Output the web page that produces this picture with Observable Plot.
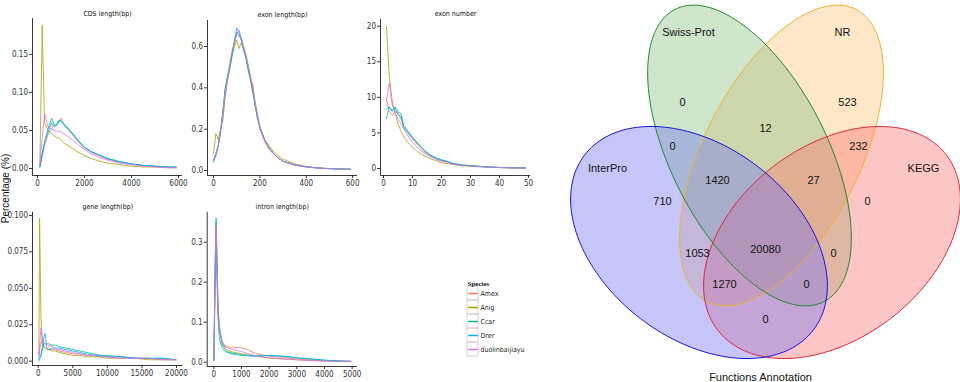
<!DOCTYPE html>
<html>
<head>
<meta charset="utf-8">
<script src="https://cdn.jsdelivr.net/npm/d3@7"></script>
<script src="https://cdn.jsdelivr.net/npm/@observablehq/plot@0.6"></script>
<style>
  html, body { margin: 0; padding: 0; background: #fff; }
  #chart { position: relative; width: 960px; height: 382px; overflow: hidden; background: #fff; }
</style>
</head>
<body>
<div id="chart"></div>
<script>
// ---------------- DATA ----------------
const species = ["Amex", "Anig", "Ccar", "Drer", "duolinbaijiayu"];
const speciesColors = ["#F8766D", "#A3A500", "#00BF7D", "#00B0F6", "#E76BF3"];

// CDS length(bp)
const cdsX = [100,200,300,450,600,700,800,900,1000,1100,1300,1500,1700,2000,2300,2600,3000,3500,4000,4500,5000,5500,5900];
const cdsAmex  = [0.002,0.015,0.030,0.045,0.052,0.057,0.058,0.062,0.066,0.060,0.052,0.044,0.036,0.027,0.021,0.017,0.012,0.008,0.006,0.004,0.003,0.002,0.001];
const cdsAnig  = [0.003,0.188,0.060,0.050,0.046,0.043,0.041,0.040,0.037,0.034,0.030,0.026,0.022,0.017,0.013,0.010,0.007,0.005,0.003,0.002,0.002,0.001,0.001];
const cdsCcar  = [0.002,0.020,0.035,0.052,0.066,0.058,0.057,0.063,0.062,0.058,0.051,0.045,0.037,0.028,0.022,0.018,0.013,0.009,0.006,0.004,0.003,0.002,0.002];
const cdsDrer  = [0.002,0.018,0.033,0.048,0.060,0.055,0.056,0.061,0.063,0.059,0.053,0.046,0.038,0.028,0.022,0.018,0.013,0.009,0.006,0.004,0.003,0.002,0.002];
const cdsDuol  = [0.005,0.040,0.072,0.055,0.052,0.050,0.049,0.049,0.048,0.046,0.042,0.037,0.032,0.025,0.019,0.015,0.011,0.007,0.005,0.003,0.002,0.001,0.001];

// exon length(bp)
const exlX = [0,10,20,30,40,50,60,70,80,90,100,110,120,130,140,150,160,170,180,190,200,220,240,260,280,300,350,400,450,500,550,590];
const exlAmex = [0.05,0.08,0.12,0.19,0.28,0.38,0.44,0.50,0.57,0.61,0.66,0.65,0.64,0.60,0.55,0.49,0.44,0.42,0.31,0.25,0.20,0.14,0.10,0.08,0.06,0.044,0.026,0.017,0.012,0.009,0.007,0.006];
const exlAnig = [0.08,0.18,0.15,0.20,0.24,0.35,0.43,0.49,0.55,0.60,0.63,0.59,0.62,0.58,0.54,0.48,0.43,0.37,0.31,0.25,0.21,0.15,0.12,0.09,0.07,0.055,0.032,0.020,0.013,0.010,0.008,0.007];
const exlCcar = [0.05,0.08,0.12,0.19,0.28,0.40,0.46,0.51,0.57,0.63,0.67,0.66,0.63,0.59,0.55,0.49,0.44,0.38,0.32,0.26,0.21,0.15,0.11,0.08,0.06,0.045,0.027,0.018,0.012,0.009,0.007,0.006];
const exlDrer = [0.04,0.07,0.11,0.18,0.27,0.38,0.45,0.50,0.56,0.62,0.69,0.67,0.63,0.59,0.55,0.50,0.45,0.39,0.32,0.26,0.21,0.15,0.11,0.08,0.06,0.045,0.027,0.018,0.012,0.009,0.007,0.006];
const exlDuol = [0.05,0.08,0.12,0.19,0.28,0.37,0.44,0.52,0.58,0.62,0.66,0.68,0.64,0.60,0.56,0.51,0.45,0.40,0.33,0.27,0.21,0.15,0.11,0.08,0.06,0.045,0.026,0.017,0.012,0.009,0.007,0.006];

// exon number
const exnX = [1,2,3,4,5,6,7,8,9,10,12,14,16,18,20,22,24,27,30,35,40,45,49];
const exnAmex = [9.8,8.0,7.5,8.0,7.8,7.0,5.8,5.2,4.7,4.2,3.2,2.4,1.8,1.4,1.1,0.9,0.7,0.5,0.4,0.25,0.15,0.1,0.08];
const exnAnig = [20.0,13.0,9.5,7.8,6.3,5.3,4.5,3.9,3.4,3.0,2.3,1.8,1.4,1.1,0.8,0.7,0.55,0.4,0.3,0.2,0.12,0.08,0.05];
const exnCcar = [7.0,8.6,8.2,8.7,8.0,7.7,6.1,5.5,5.0,4.4,3.5,2.6,1.9,1.5,1.2,1.0,0.7,0.5,0.4,0.25,0.15,0.1,0.08];
const exnDrer = [8.3,8.7,8.0,8.5,7.6,7.3,5.8,5.3,4.8,4.3,3.4,2.6,1.9,1.5,1.2,1.0,0.7,0.5,0.4,0.25,0.15,0.1,0.08];
const exnDuol = [9.5,12.0,9.0,7.8,7.0,6.3,5.5,4.9,4.3,3.7,2.8,2.2,1.7,1.3,1.0,0.9,0.6,0.45,0.35,0.22,0.14,0.09,0.06];

// gene length(bp)
const genX = [100,200,400,600,800,1000,1200,1500,2000,2500,3000,4000,5000,6000,7000,8000,9000,10000,12000,14000,16000,18000,19900];
const genAmex = [0.003,0.008,0.012,0.015,0.011,0.009,0.009,0.008,0.008,0.008,0.007,0.006,0.005,0.005,0.004,0.004,0.003,0.003,0.003,0.002,0.002,0.001,0.001];
const genAnig = [0.005,0.098,0.030,0.012,0.010,0.009,0.008,0.008,0.007,0.007,0.006,0.005,0.004,0.004,0.003,0.003,0.003,0.002,0.002,0.002,0.001,0.001,0.001];
const genCcar = [0.001,0.002,0.004,0.008,0.012,0.012,0.012,0.012,0.011,0.011,0.010,0.009,0.008,0.007,0.006,0.005,0.004,0.004,0.003,0.002,0.002,0.002,0.001];
const genDrer = [0.000,0.001,0.004,0.010,0.016,0.019,0.010,0.008,0.009,0.009,0.009,0.008,0.007,0.006,0.005,0.004,0.004,0.003,0.003,0.002,0.002,0.002,0.001];
const genDuol = [0.002,0.010,0.023,0.016,0.012,0.012,0.011,0.011,0.010,0.009,0.008,0.007,0.006,0.005,0.004,0.004,0.003,0.003,0.002,0.002,0.002,0.001,0.001];

// intron length(bp)
const intX = [0,50,80,100,150,200,300,400,500,700,1000,1200,1500,2000,2500,3000,3500,4000,4500,4950];
const intAmex = [0.005,0.20,0.30,0.25,0.12,0.08,0.05,0.042,0.038,0.037,0.036,0.032,0.022,0.015,0.012,0.008,0.006,0.004,0.003,0.002];
const intAnig = [0.005,0.25,0.35,0.30,0.14,0.09,0.05,0.036,0.030,0.025,0.021,0.018,0.015,0.010,0.008,0.006,0.004,0.003,0.002,0.002];
const intCcar = [0.005,0.26,0.36,0.30,0.14,0.08,0.045,0.032,0.026,0.022,0.019,0.017,0.016,0.016,0.015,0.011,0.008,0.005,0.003,0.002];
const intDrer = [0.005,0.22,0.32,0.27,0.11,0.06,0.035,0.027,0.024,0.020,0.017,0.016,0.015,0.017,0.015,0.011,0.008,0.005,0.003,0.002];
const intDuol = [0.005,0.24,0.34,0.29,0.13,0.085,0.05,0.040,0.036,0.031,0.027,0.022,0.016,0.011,0.008,0.006,0.004,0.003,0.002,0.002];

// Venn
const vennSets = ["Swiss-Prot", "NR", "InterPro", "KEGG"];
const vennRegions = ["Swiss-Prot only","NR only","Swiss-Prot∩NR","Swiss-Prot∩InterPro","NR∩KEGG","Swiss-Prot∩NR∩InterPro","Swiss-Prot∩NR∩KEGG","InterPro only","KEGG only","NR∩InterPro","all four","Swiss-Prot∩KEGG","NR∩InterPro∩KEGG","Swiss-Prot∩InterPro∩KEGG","InterPro∩KEGG"];
const vennCounts  = [0, 523, 12, 0, 232, 1420, 27, 710, 0, 1053, 20080, 0, 1270, 0, 0];
const vennTitle = "Functions Annotation";

// ---------------- LAYOUT / STYLE ----------------
const NARROW = "'Liberation Sans Narrow','Arial Narrow','DejaVu Sans Condensed',sans-serif";
const SANS = "'Liberation Sans',Arial,sans-serif";
const root = document.getElementById("chart");
const fullStyle = (extra = {}) => Object.assign({
  background: "transparent", position: "absolute", left: "0px", top: "0px",
  overflow: "visible", fontFamily: NARROW, fontSize: "8px", color: "#333"
}, extra);

function panel({xs, series, title, xDomain, yDomain, px, py, xTicks, yTicks, yFormat, titleDy}) {
  const rows = [];
  species.forEach((s, i) => series[i].forEach((v, j) => rows.push({species: s, x: xs[j], y: v})));
  return Plot.plot({
    width: 560, height: 382,
    marginLeft: px[0], marginRight: 560 - px[1], marginTop: py[0], marginBottom: 382 - py[1],
    x: {domain: xDomain, ticks: xTicks, tickSize: 3, tickPadding: 1.5, label: null, tickFormat: d3.format("d")},
    y: {domain: yDomain, ticks: yTicks, tickSize: 3, tickPadding: 1.5, label: null, tickFormat: d3.format(yFormat)},
    color: {domain: species, range: speciesColors},
    style: fullStyle(),
    marks: [
      Plot.line(rows, {x: "x", y: "y", z: "species", stroke: "species", strokeWidth: 0.8}),
      Plot.ruleX([xDomain[0]], {stroke: "#222", strokeWidth: 0.9}),
      Plot.ruleY([yDomain[0]], {stroke: "#222", strokeWidth: 0.9}),
      Plot.text([title], {text: d => d, frameAnchor: "top", lineAnchor: "bottom", dy: titleDy, fontSize: 7, fill: "#111"})
    ]
  });
}

const panels = [
  {xs: cdsX, series: [cdsAmex, cdsAnig, cdsCcar, cdsDrer, cdsDuol], title: "CDS length(bp)",
   xDomain: [-213, 6170], yDomain: [-0.0092, 0.197], px: [32, 182], py: [18, 175],
   xTicks: [0, 2000, 4000, 6000], yTicks: [0, 0.05, 0.10, 0.15], yFormat: ".2f", titleDy: -3},
  {xs: exlX, series: [exlAmex, exlAnig, exlCcar, exlDrer, exlDuol], title: "exon length(bp)",
   xDomain: [-26, 621], yDomain: [-0.024, 0.726], px: [207, 357], py: [20, 175],
   xTicks: [0, 200, 400, 600], yTicks: [0, 0.2, 0.4, 0.6], yFormat: ".1f", titleDy: -4},
  {xs: exnX, series: [exnAmex, exnAnig, exnCcar, exnDrer, exnDuol], title: "exon number",
   xDomain: [-1.03, 50.7], yDomain: [-0.98, 20.94], px: [380, 530], py: [19, 175],
   xTicks: [0, 10, 20, 30, 40, 50], yTicks: [0, 5, 10, 15, 20], yFormat: "d", titleDy: -4},
  {xs: genX, series: [genAmex, genAnig, genCcar, genDrer, genDuol], title: "gene length(bp)",
   xDomain: [-824, 20969], yDomain: [-0.00295, 0.1022], px: [32, 182.7], py: [211.7, 365],
   xTicks: [0, 5000, 10000, 15000, 20000], yTicks: [0, 0.025, 0.05, 0.075, 0.1], yFormat: ".3f", titleDy: -3},
  {xs: intX, series: [intAmex, intAnig, intCcar, intDrer, intDuol], title: "intron length(bp)",
   xDomain: [-240, 5183], yDomain: [-0.0108, 0.375], px: [206.7, 356.7], py: [211.7, 366],
   xTicks: [0, 1000, 2000, 3000, 4000, 5000], yTicks: [0, 0.1, 0.2, 0.3], yFormat: ".1f", titleDy: -3}
];
panels.forEach(p => root.appendChild(panel(p)));

// Y axis label
root.appendChild(Plot.plot({
  width: 12, height: 382, margin: 0,
  x: {axis: null}, y: {axis: null},
  style: fullStyle({left: "-1px", top: "-3px", fontFamily: SANS}),
  marks: [Plot.text(["Percentage (%)"], {text: d => d, frameAnchor: "middle", rotate: -90, fontSize: 10, fill: "#111"})]
}));

// Legend: one row per species (row index on a linear y scale)
const legendRow = species.map((_, i) => i);
const legendKeyRows = [];
species.forEach((s, i) => { legendKeyRows.push({s, row: i, k: 0.1}); legendKeyRows.push({s, row: i, k: 0.9}); });
root.appendChild(Plot.plot({
  width: 90, height: 84, marginTop: 10, marginBottom: 4, marginLeft: 0, marginRight: 79,
  x: {domain: [0, 1], range: [0, 11], axis: null},
  y: {domain: [-0.5, 4.5], range: [10, 80], axis: null},
  color: {domain: species, range: speciesColors},
  style: fullStyle({left: "467px", top: "276px"}),
  marks: [
    Plot.rect(legendRow, {x1: () => 0, x2: () => 1, y1: i => i - 0.5, y2: i => i + 0.5, fill: "none", stroke: "#c8c8c8", strokeWidth: 0.8}),
    Plot.line(legendKeyRows, {x: "k", y: "row", z: "s", stroke: "s", strokeWidth: 1.3}),
    Plot.text(legendRow, {x: () => 1, y: i => i, text: i => species[i], textAnchor: "start", dx: 2, fontSize: 7, fill: "#222"}),
    Plot.text(["Species"], {text: d => d, frameAnchor: "top-left", lineAnchor: "bottom", dy: -1, fontSize: 7,
      fontWeight: "bold", fontFamily: "'Liberation Serif','Times New Roman',serif", fill: "#111"})
  ]
}));

// Venn diagram: ellipse geometry (center, semi-axes, rotation) in the diagram's own units
const vennCx = [-16, 16, -66.5, 66.5];
const vennCy = [155, 155, 242, 242];
const vennA = [164, 164, 144, 144];
const vennB = [78, 78, 96, 96];
const vennRot = [63, -63, 37.4, -37.4];
const vennFill = ["#87c07f", "#fac475", "#7070f2", "#fa7070"];
const vennStroke = ["#1f8a2a", "#ebb22a", "#1414dc", "#dc2838"];
const vennOrder = [1, 0, 3, 2]; // draw NR, Swiss-Prot, KEGG, InterPro

function ellipseRows(k) {
  const t = vennRot[k] * Math.PI / 180;
  return d3.range(0, 360, 2).map(deg => {
    const u = deg * Math.PI / 180;
    return {
      x: vennCx[k] + vennA[k] * Math.cos(u) * Math.cos(t) - vennB[k] * Math.sin(u) * Math.sin(t),
      y: vennCy[k] + vennA[k] * Math.cos(u) * Math.sin(t) + vennB[k] * Math.sin(u) * Math.cos(t)
    };
  });
}

// label anchors (diagram units) for set names and region counts
const vennSetLabelX = [-77, 77, -158, 158];
const vennSetLabelY = [32, 32, 168, 168];
const vennCountX = [-83, 82, 0, -93, 93, -48, 48, -103, 102, -68, 0, 68, -41, 41, 0];
const vennCountY = [102, 102, 128, 146, 146, 180, 180, 201, 201, 253, 249, 253, 284, 284, 319];

const vennMarks = [];
vennOrder.forEach(k => vennMarks.push(Plot.line(ellipseRows(k), {x: "x", y: "y", curve: "linear-closed", fill: vennFill[k], fillOpacity: 0.4, stroke: "none"})));
vennOrder.forEach(k => vennMarks.push(Plot.line(ellipseRows(k), {x: "x", y: "y", curve: "linear-closed", fill: "none", stroke: vennStroke[k], strokeWidth: 1})));
vennMarks.push(Plot.text(vennSets, {x: (d, i) => vennSetLabelX[i], y: (d, i) => vennSetLabelY[i], text: d => d, fontSize: 11, fill: "#111"}));
vennMarks.push(Plot.text(vennCounts, {x: (d, i) => vennCountX[i], y: (d, i) => vennCountY[i], text: d => String(d), fontSize: 11, fill: "#111"}));
vennMarks.push(Plot.text([vennTitle], {text: d => d, frameAnchor: "bottom", lineAnchor: "middle", dy: -5, fontSize: 11, fill: "#111"}));

root.appendChild(Plot.plot({
  width: 400, height: 382, margin: 0,
  x: {domain: [-205, 195], range: [0, 400], axis: null},
  y: {domain: [0, 382], range: [0, 382], axis: null},
  style: fullStyle({left: "560px", fontFamily: SANS}),
  marks: vennMarks
}));
</script>
</body>
</html>
